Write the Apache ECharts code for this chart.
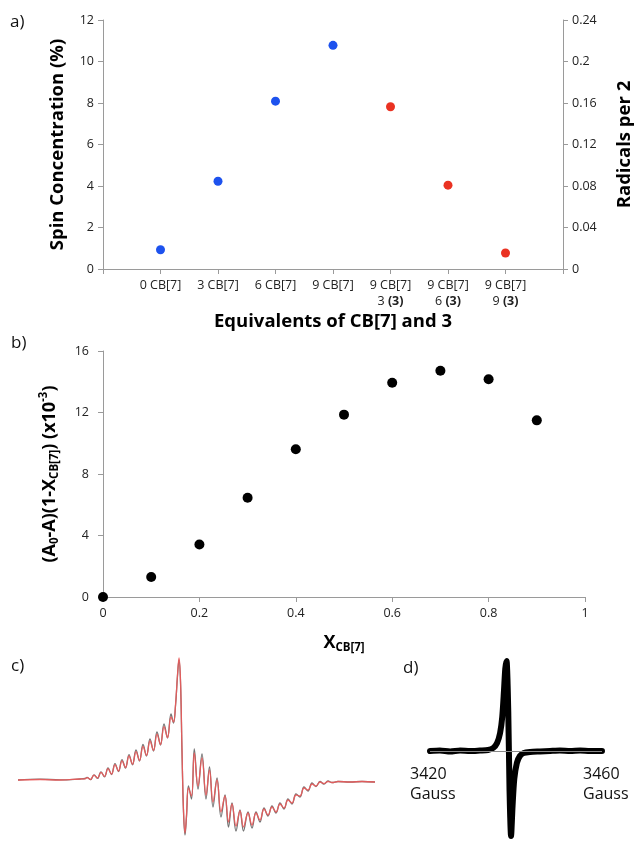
<!DOCTYPE html>
<html><head><meta charset="utf-8">
<script src="https://cdn.jsdelivr.net/npm/echarts@6/dist/echarts.min.js"></script>
<style>html,body{margin:0;padding:0;background:#fff}#c{width:642px;height:842px}</style>
</head><body><div id="c"></div>
<script>
const FONT = '"Open Sans", sans-serif';

// ---- Panel a: spin concentration ----
const catsA = ['0 CB[7]', '3 CB[7]', '6 CB[7]', '9 CB[7]', '9 CB[7]\n3 (3)', '9 CB[7]\n6 (3)', '9 CB[7]\n9 (3)'];
const blueCats = ['0 CB[7]', '3 CB[7]', '6 CB[7]', '9 CB[7]'];
const blueVals = [0.93, 4.23, 8.09, 10.78];
const redCats = ['9 CB[7]\n3 (3)', '9 CB[7]\n6 (3)', '9 CB[7]\n9 (3)'];
const redVals = [7.82, 4.04, 0.77];
const leftMaxA = 12, leftStepA = 2;
const rightMaxA = 0.24, rightStepA = 0.04;

// ---- Panel b: Job plot ----
const xB = [0, 0.1, 0.2, 0.3, 0.4, 0.5, 0.6, 0.7, 0.8, 0.9];
const yB = [0, 1.30, 3.41, 6.46, 9.61, 11.86, 13.94, 14.72, 14.16, 11.49];
const xMaxB = 1, xStepB = 0.2;
const yMaxB = 16, yStepB = 4;

// ---- Panel c: EPR spectra (arbitrary field units / intensity) ----
const cField = [18, 40, 60, 80, 85, 87, 90.5, 94, 97.5, 101, 104.5, 108, 111.5, 115, 118.5, 122, 125.5, 129, 132.5, 136,
  139.5, 143, 146.5, 150, 153.5, 157, 160.5, 164, 167.5, 171, 173.5, 175.5, 177.5, 179, 180.5, 182, 183.5, 185, 186.5, 188.5,
  191.5, 194.3, 198, 202, 206, 209.5, 213, 217, 221, 225, 228.5, 232, 236, 240, 243.5, 248, 252, 256, 260, 264,
  268, 272, 276, 280, 284, 288, 292, 296, 300, 304, 308, 312, 316, 320, 324, 328, 332, 338, 350, 362, 375];
const cRed = [0, 0.5, 0, 1, 1.2, 2.4, 0.5, 4.8, 1.9, 7.7, 3.6, 11.3, 5.9, 15.4, 9, 19.2, 12.5, 24, 15.8, 28.4,
  19.5, 33.7, 24.6, 39, 29.6, 45.8, 35.5, 53.3, 42.4, 63, 58, 75, 105, 122, 100, 30, -30, -53, -35, -8,
  -16, 27, -6, 22, -15, 10, -22, 0, -32, -16, -42, -24, -46, -31, -47, -33, -45, -33, -40, -29,
  -35, -27, -32, -24, -28, -20, -23, -15, -16, -8, -10, -4, -6, -2, -3.5, -1.5, -2.5, -1.5, -2, -1.5, -2];
const cGray = [0, 0.8, 0.2, 1, 1.5, 2.6, 0.3, 5.2, 1.6, 8.2, 3.2, 12, 5.5, 16.3, 8.5, 20.3, 12, 25.3, 15.2, 30,
  19, 35.5, 24, 41, 29, 48, 35, 56, 42, 66, 57, 74, 104, 120, 98, 28, -32, -55, -37, -6,
  -19, 31, -9, 26, -19, 13, -27, 2, -37, -15, -47, -23, -51, -30, -51, -32, -48, -32, -42, -28,
  -36, -26, -33, -23, -29, -19, -24, -14, -17, -7, -11, -3, -6.5, -1.5, -4, -1, -2.5, -1.5, -2, -1.5, -2];

// ---- Panel d: EPR spectrum (Gauss) ----
const dField = [3420, 3422.3, 3424.7, 3427, 3429.3, 3431.6, 3433.5, 3434.7, 3435.6, 3436.3,
  3436.8, 3437.2, 3437.5, 3437.8, 3438.2, 3438.5, 3438.85, 3439.2, 3439.6, 3440.2,
  3440.9, 3441.8, 3443.3, 3445.6, 3447.9, 3450.2, 3452.6, 3454.9, 3457.2, 3460];
const dSignal = [0, 0.5, -0.5, 0.5, 0, 0.5, 1, 3, 8, 18,
  34, 60, 82, 90, 40, -40, -85, -55, -28, -12,
  -5, -2, -1, -0.5, 0, 0.5, 0, 0.5, 0, 0];
const dLabels = ['3420\nGauss', '3460\nGauss'];

const axisGray = '#9a9a9a';
const labelColor = '#222';

const chart = echarts.init(document.getElementById('c'), null, {renderer: 'canvas'});

const titleStyle = {fontFamily: FONT, fontSize: 18.5, fontWeight: 'bold', color: '#000'};
const richName = {
  m: {fontFamily: FONT, fontSize: 18, fontWeight: 'bold', color: '#000', lineHeight: 23},
  s: {fontFamily: FONT, fontSize: 11.5, fontWeight: 'bold', color: '#000', lineHeight: 12, verticalAlign: 'bottom'},
  p: {fontFamily: FONT, fontSize: 11.5, fontWeight: 'bold', color: '#000', lineHeight: 12, verticalAlign: 'top'}
};

const option = {
  backgroundColor: '#fff',
  animation: false,
  grid: [
    {left: 103, top: 20, width: 465, height: 249},
    {left: 103, top: 351, width: 482, height: 246},
    {left: 18, top: 650, width: 360, height: 190},
    {left: 430, top: 655, width: 172, height: 184}
  ],
  xAxis: [
    {
      gridIndex: 0, type: 'category', data: [''].concat(catsA, ['']), boundaryGap: false,
      axisLine: {lineStyle: {color: axisGray}},
      axisTick: {show: true, interval: 0, length: 5, lineStyle: {color: axisGray}},
      axisLabel: {
        interval: 0, color: labelColor, fontFamily: FONT, fontSize: 12.5, lineHeight: 16, margin: 8,
        formatter: v => v.replace('(3)', '{b|(3)}'),
        rich: {b: {fontFamily: FONT, fontSize: 12.5, fontWeight: 'bold', color: labelColor, lineHeight: 16}}
      },
      splitLine: {show: false},
      name: 'Equivalents of CB[7] and 3', nameLocation: 'middle', nameGap: 43, nameTextStyle: titleStyle
    },
    {
      gridIndex: 1, type: 'value', min: 0, max: xMaxB, interval: xStepB,
      axisLine: {show: true, lineStyle: {color: axisGray}},
      axisTick: {show: true, length: 5, lineStyle: {color: axisGray}},
      axisLabel: {color: labelColor, fontFamily: FONT, fontSize: 12.5, margin: 10},
      splitLine: {show: false},
      name: '{m|X}{s|CB[7]}', nameLocation: 'middle', nameGap: 34,
      nameTextStyle: {rich: richName}
    },
    {gridIndex: 2, type: 'value', min: 18, max: 378, show: false},
    {gridIndex: 3, type: 'value', min: 3420, max: 3460, show: false}
  ],
  yAxis: [
    {
      gridIndex: 0, type: 'value', min: 0, max: leftMaxA, interval: leftStepA, position: 'left',
      axisLine: {show: true, lineStyle: {color: axisGray}},
      axisTick: {show: true, length: 5, lineStyle: {color: axisGray}},
      axisLabel: {color: labelColor, fontFamily: FONT, fontSize: 12.5, margin: 9},
      splitLine: {show: false},
      name: 'Spin Concentration (%)', nameLocation: 'middle', nameRotate: 90, nameGap: 36, nameTextStyle: titleStyle
    },
    {
      gridIndex: 0, type: 'value', min: 0, max: rightMaxA, interval: rightStepA, position: 'right',
      axisLine: {show: true, lineStyle: {color: axisGray}},
      axisTick: {show: true, length: 5, lineStyle: {color: axisGray}},
      axisLabel: {color: labelColor, fontFamily: FONT, fontSize: 12.5, margin: 9},
      splitLine: {show: false},
      name: 'Radicals per 2', nameLocation: 'middle', nameRotate: 90, nameGap: 52, nameTextStyle: titleStyle
    },
    {
      gridIndex: 1, type: 'value', min: 0, max: yMaxB, interval: yStepB,
      axisLine: {show: true, lineStyle: {color: axisGray}},
      axisTick: {show: true, length: 5, lineStyle: {color: axisGray}},
      axisLabel: {color: labelColor, fontFamily: FONT, fontSize: 12.5, margin: 14},
      splitLine: {show: false},
      name: '{m|(A}{s|0}{m|-A)(1-X}{s|CB[7]}{m|) (x10}{p|-3}{m|)}',
      nameLocation: 'middle', nameRotate: 90, nameGap: 42,
      nameTextStyle: {rich: richName}
    },
    {gridIndex: 2, type: 'value', min: -60, max: 130, show: false},
    {gridIndex: 3, type: 'value', min: -88, max: 96, show: false}
  ],
  series: [
    {
      type: 'scatter', xAxisIndex: 0, yAxisIndex: 0, symbolSize: 9,
      itemStyle: {color: '#1d52ee', opacity: 1},
      data: blueCats.map((c, i) => [c, blueVals[i]])
    },
    {
      type: 'scatter', xAxisIndex: 0, yAxisIndex: 0, symbolSize: 9,
      itemStyle: {color: '#ea3222', opacity: 1},
      data: redCats.map((c, i) => [c, redVals[i]])
    },
    {
      type: 'scatter', xAxisIndex: 1, yAxisIndex: 2, symbolSize: 10,
      itemStyle: {color: '#000', opacity: 1},
      data: xB.map((x, i) => [x, yB[i]])
    },
    {
      type: 'line', xAxisIndex: 2, yAxisIndex: 3, showSymbol: false, smooth: 0.4,
      lineStyle: {color: '#5a5a5a', width: 1.3, opacity: 0.85},
      data: cField.map((x, i) => [x, cGray[i]])
    },
    {
      type: 'line', xAxisIndex: 2, yAxisIndex: 3, showSymbol: false, smooth: 0.4,
      lineStyle: {color: '#ec5a5a', width: 1.3, opacity: 0.9},
      data: cField.map((x, i) => [x, cRed[i]])
    },
    {
      type: 'line', xAxisIndex: 3, yAxisIndex: 4, showSymbol: false, smooth: 0.25,
      lineStyle: {color: '#000', width: 6, cap: 'round', join: 'round'},
      data: dField.map((x, i) => [x, dSignal[i]]),
      markLine: {
        silent: true, symbol: 'none', label: {show: false},
        lineStyle: {color: '#888', width: 1, type: 'solid'},
        data: [{yAxis: 0}]
      },
      z: 3
    }
  ],
  graphic: [
    {type: 'text', left: 10, top: 14, style: {text: 'a)', fontFamily: FONT, fontSize: 17, fill: '#111'}},
    {type: 'text', left: 11, top: 335, style: {text: 'b)', fontFamily: FONT, fontSize: 17, fill: '#111'}},
    {type: 'text', left: 11, top: 658, style: {text: 'c)', fontFamily: FONT, fontSize: 17, fill: '#111'}},
    {type: 'text', left: 403, top: 660, style: {text: 'd)', fontFamily: FONT, fontSize: 17, fill: '#111'}},
    {type: 'text', left: 410, top: 764, style: {text: dLabels[0], fontFamily: FONT, fontSize: 16, lineHeight: 20, fill: '#111'}},
    {type: 'text', left: 583, top: 764, style: {text: dLabels[1], fontFamily: FONT, fontSize: 16, lineHeight: 20, fill: '#111'}}
  ]
};
chart.setOption(option);
</script>
</body></html>
